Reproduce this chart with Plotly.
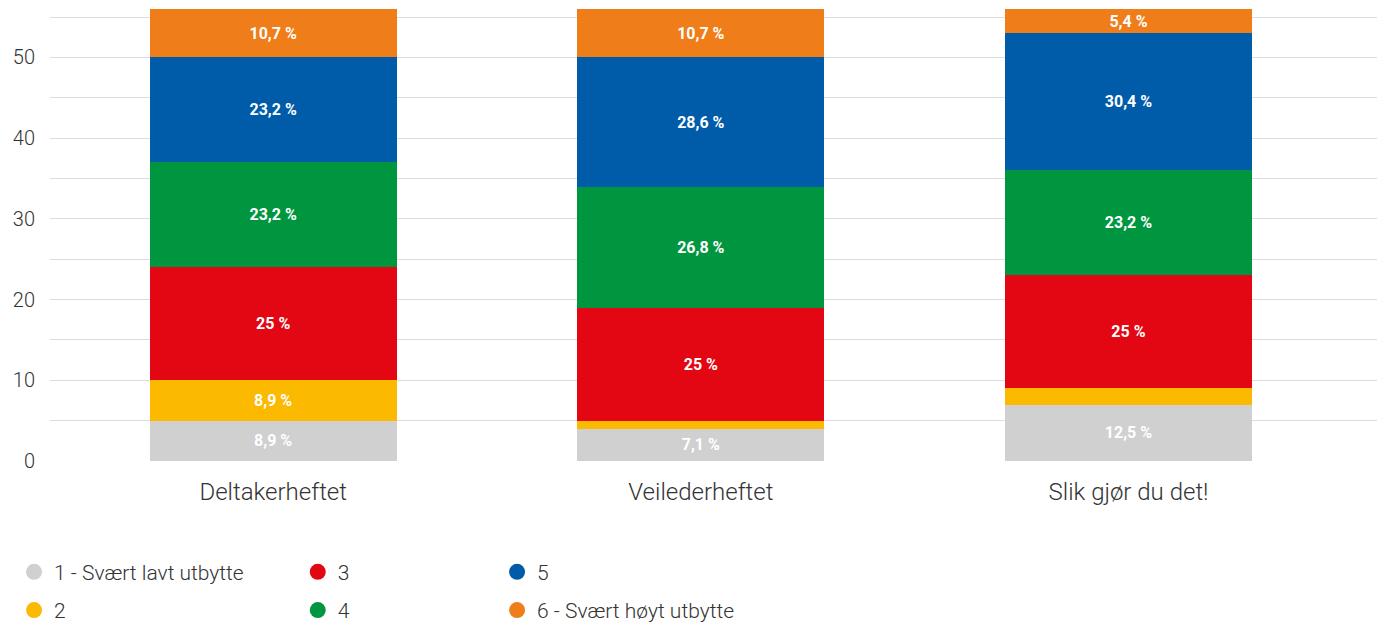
import plotly.graph_objects as go

categories = ["Deltakerheftet", "Veilederheftet", "Slik gjør du det!"]
series_names = ["1 - Svært lavt utbytte", "2", "3", "4", "5", "6 - Svært høyt utbytte"]
s1 = [5, 4, 7]
s2 = [5, 1, 2]
s3 = [14, 14, 14]
s4 = [13, 15, 13]
s5 = [13, 16, 17]
s6 = [6, 6, 3]
colors = ["#d0d0d0", "#fbb900", "#e30613", "#00963f", "#005ca9", "#ef7d19"]
y_ticks = [0, 10, 20, 30, 40, 50]

series = [s1, s2, s3, s4, s5, s6]
totals = [sum(v) for v in zip(*series)]


def fmt_pct(v, t):
    p = round(100 * v / t, 1)
    if p < 5:
        return ""
    s = f"{p:.1f}".rstrip("0").rstrip(".")
    return s.replace(".", ",") + " %"


FONT = "Roboto"
fig = go.Figure()
for name, vals, col in zip(series_names, series, colors):
    fig.add_trace(go.Bar(
        x=categories, y=vals, name=name, marker=dict(color=col, line=dict(width=0)),
        text=[fmt_pct(v, t) for v, t in zip(vals, totals)],
        textposition="inside", insidetextanchor="middle", textangle=0,
        textfont=dict(family=FONT, size=16, color="#ffffff", weight=700),
        showlegend=False, width=0.578, hoverinfo="skip",
    ))

legend_of = ["legend", "legend", "legend2", "legend2", "legend3", "legend3"]
for i, (name, col) in enumerate(zip(series_names, colors)):
    fig.add_trace(go.Scatter(
        x=[None], y=[None], mode="markers", name=name,
        marker=dict(symbol="circle", size=18, color=col),
        legend=legend_of[i], legendgroup=f"g{i}", showlegend=True,
    ))

leg_common = dict(
    orientation="v", xanchor="left", yanchor="top", y=-0.2006,
    font=dict(family=FONT, size=21, color="#333333", weight=300),
    traceorder="grouped", tracegroupgap=8, itemsizing="trace",
    bgcolor="rgba(0,0,0,0)",
)

# the page body adds an 8px offset, so the figure is sized to fit the window
fig.update_layout(
    width=1379, height=618,
    barmode="stack", bargap=0.4,
    paper_bgcolor="#ffffff", plot_bgcolor="#ffffff",
    margin=dict(l=42, r=10, t=1, b=165, autoexpand=False),
    font=dict(family=FONT, color="#333333"),
    uniformtext=dict(minsize=16, mode="show"),
    xaxis=dict(
        type="category", range=[-0.522, 2.581], showgrid=False, zeroline=False,
        showline=False, ticks="", automargin=False,
        tickfont=dict(family=FONT, size=24, color="#333333", weight=300),
        ticklabelstandoff=14,
    ),
    yaxis=dict(
        range=[0, 56], tickvals=y_ticks, showgrid=True, gridcolor="#dcdcdc", gridwidth=1,
        zeroline=False, showline=False, ticks="", automargin=False,
        minor=dict(dtick=5, tick0=0, showgrid=True, gridcolor="#dcdcdc", gridwidth=1),
        tickfont=dict(family=FONT, size=20, color="#333333", weight=300),
        ticklabelstandoff=14,
    ),
    legend=dict(x=-0.0271, **leg_common),
    legend2=dict(x=0.1867, **leg_common),
    legend3=dict(x=0.3369, **leg_common),
)

fig.write_html("out.html")
